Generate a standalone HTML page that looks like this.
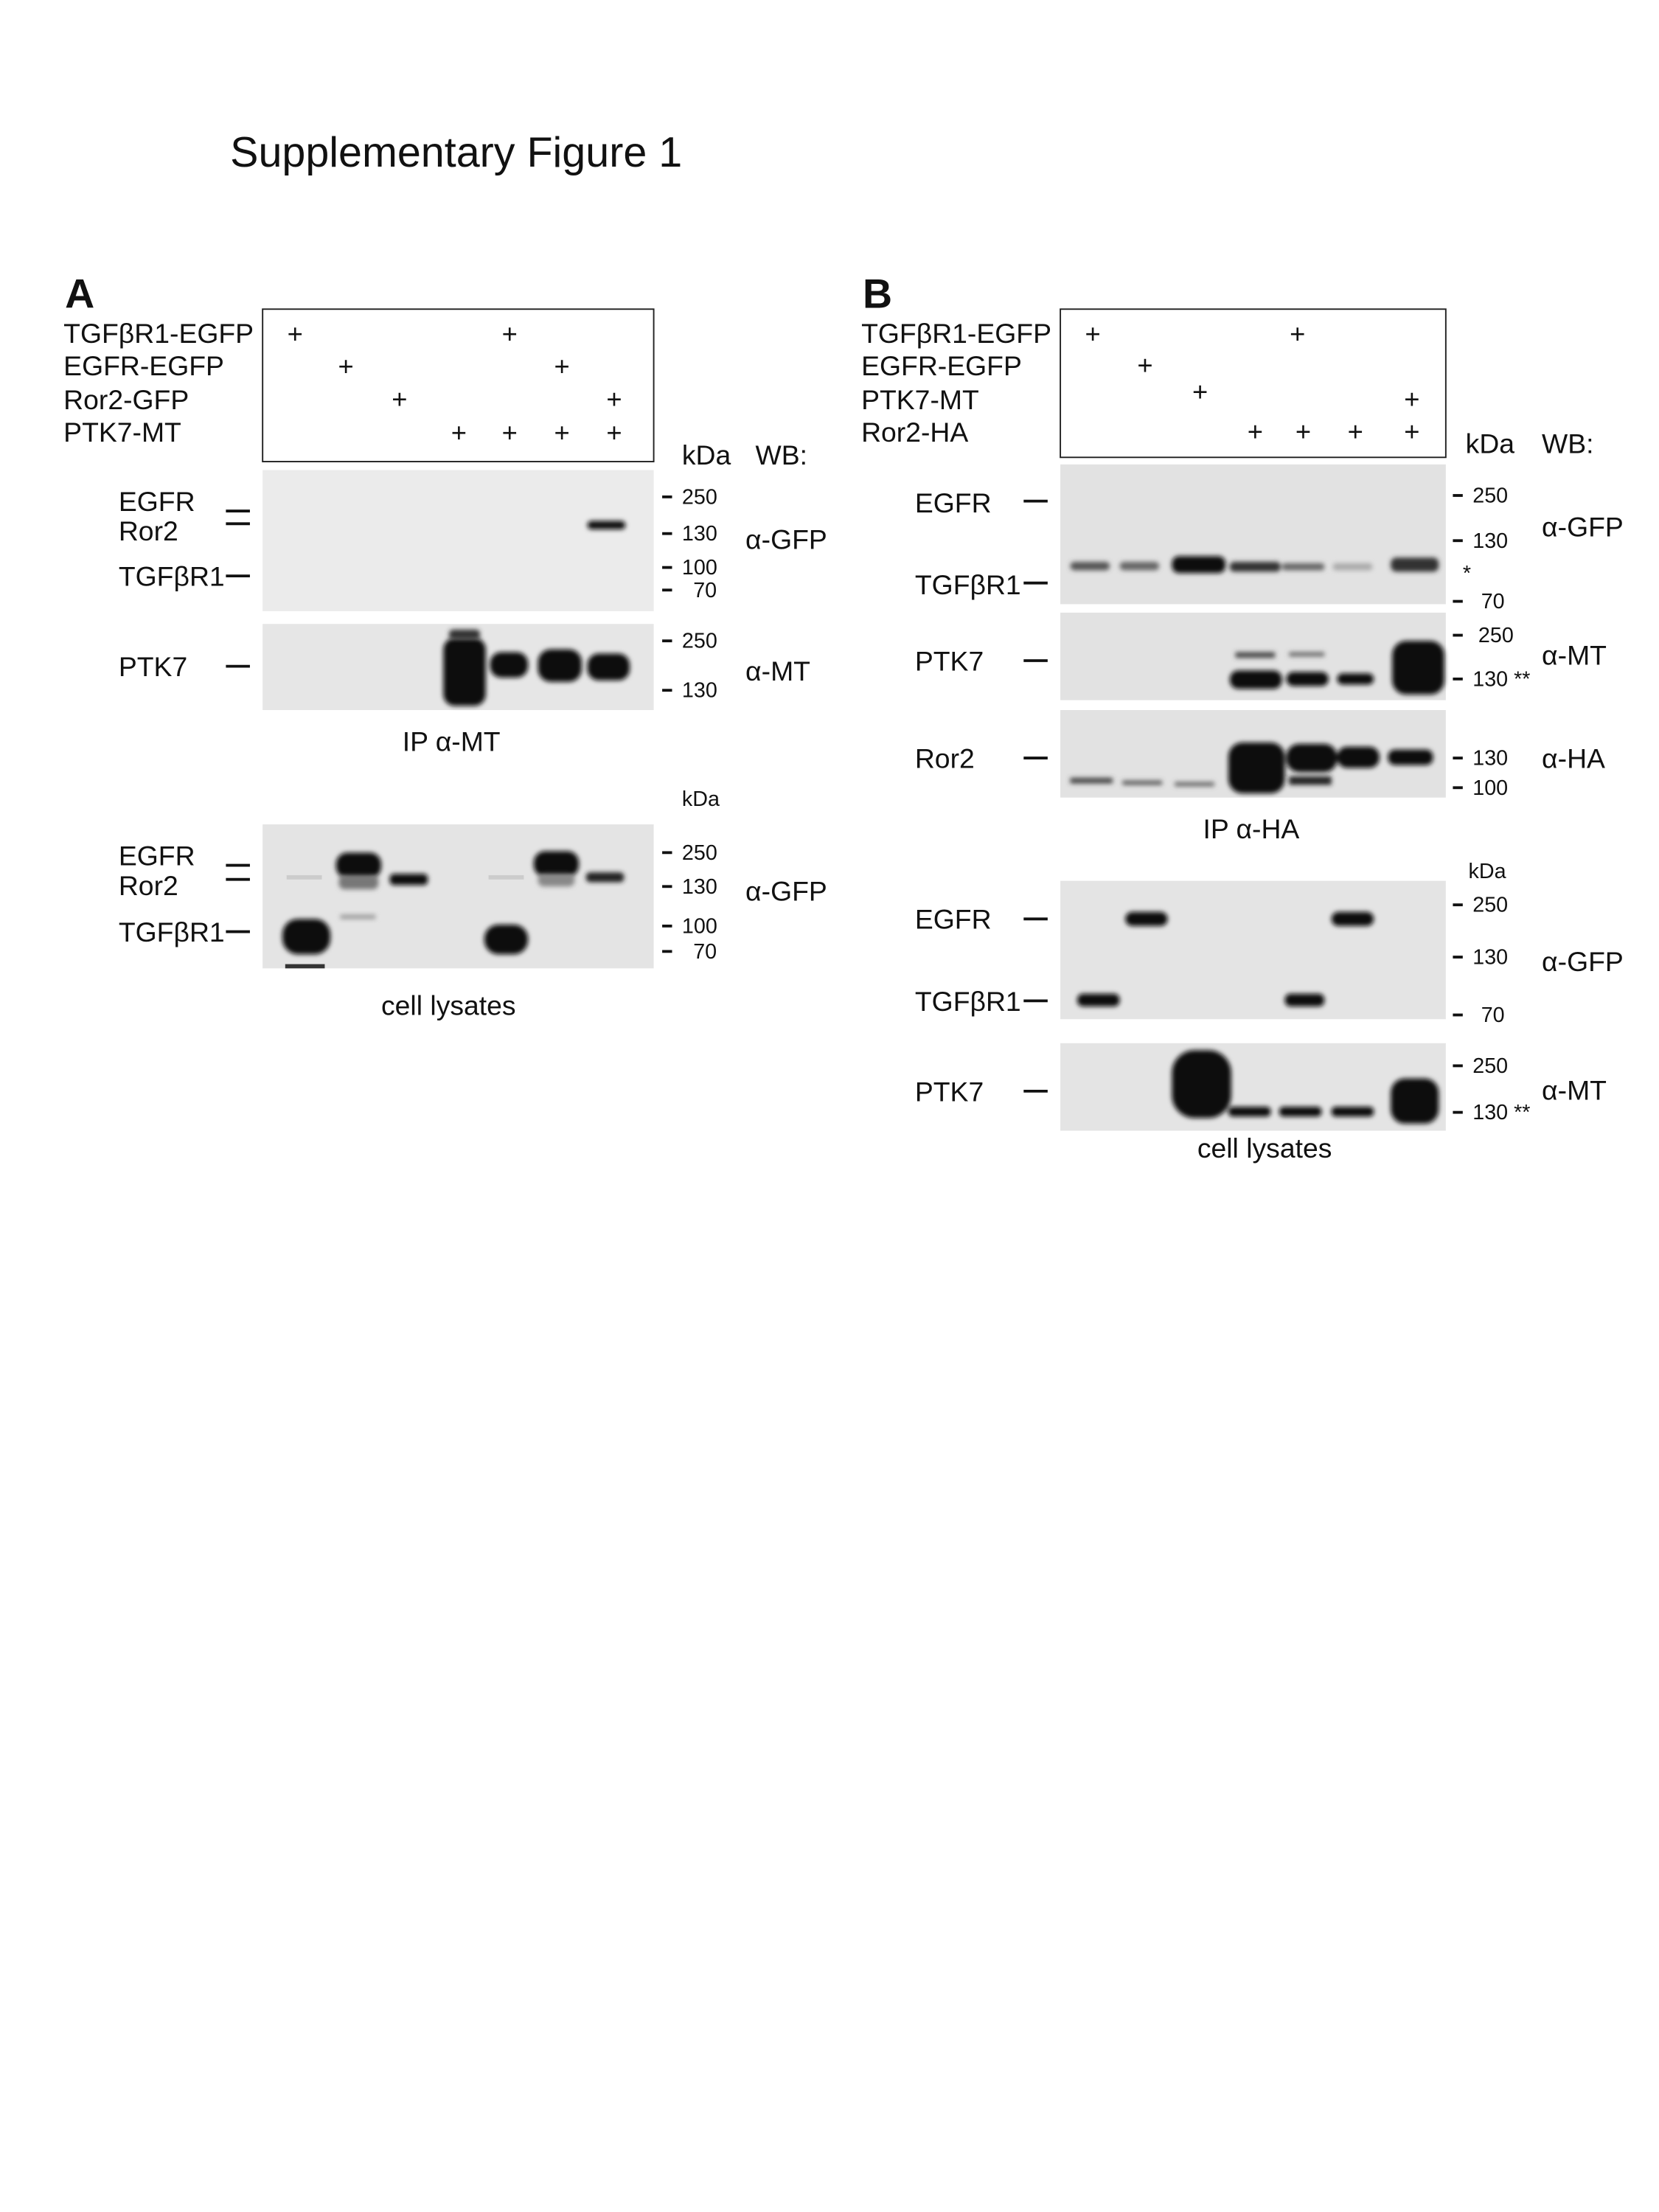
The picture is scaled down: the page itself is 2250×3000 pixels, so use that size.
<!DOCTYPE html>
<html><head><meta charset="utf-8"><style>
html,body{margin:0;padding:0;background:#fff;}
svg{display:block;}
text{font-family:"Liberation Sans",Arial,sans-serif;fill:#111;}
</style></head><body>
<svg width="2250" height="3000" viewBox="0 0 1175 1567" preserveAspectRatio="none">
<defs>
<filter id="b" x="-30%" y="-100%" width="160%" height="300%"><feGaussianBlur stdDeviation="1.6"/></filter>
</defs>
<text x="163" y="118" font-size="30">Supplementary Figure 1</text>

<!-- PANEL A -->
<g>
<text x="46" y="218" font-size="29" font-weight="bold">A</text>
<rect x="186" y="219" width="277" height="108" fill="none" stroke="#222" stroke-width="1"/>
<g font-size="19.5">
<text x="45" y="243">TGFβR1-EGFP</text><text x="45" y="266">EGFR-EGFP</text>
<text x="45" y="290">Ror2-GFP</text><text x="45" y="313">PTK7-MT</text>
</g>
<g font-size="19" text-anchor="middle">
<text x="209" y="243">+</text><text x="361" y="243">+</text>
<text x="245" y="266">+</text><text x="398" y="266">+</text>
<text x="283" y="289">+</text><text x="435" y="289">+</text>
<text x="325" y="313">+</text><text x="361" y="313">+</text><text x="398" y="313">+</text><text x="435" y="313">+</text>
</g>
<text x="483" y="329" font-size="19.5">kDa</text>
<text x="535" y="329" font-size="19.5">WB:</text>

<rect x="186" y="333" width="277" height="100" fill="#ebebeb"/>
<rect x="416" y="369" width="27" height="6" rx="3" fill="#111" filter="url(#b)"/>
<g font-size="19.5"><text x="84" y="362">EGFR</text><text x="84" y="383">Ror2</text><text x="84" y="415">TGFβR1</text></g>
<g stroke="#111" stroke-width="2"><line x1="160" y1="362" x2="177" y2="362"/><line x1="160" y1="371" x2="177" y2="371"/><line x1="160" y1="408" x2="177" y2="408"/></g>
<g font-size="15"><text x="483" y="357">250</text><text x="483" y="383">130</text><text x="483" y="407">100</text><text x="491" y="423">70</text></g>
<g stroke="#111" stroke-width="2"><line x1="469" y1="352" x2="476" y2="352"/><line x1="469" y1="378" x2="476" y2="378"/><line x1="469" y1="402" x2="476" y2="402"/><line x1="469" y1="418" x2="476" y2="418"/></g>
<text x="528" y="389" font-size="19.5">α-GFP</text>

<rect x="186" y="442" width="277" height="61" fill="#e6e6e6"/>
<rect x="314" y="452" width="30" height="48" rx="8" fill="#0a0a0a" filter="url(#b)"/>
<rect x="318" y="446" width="22" height="7" rx="3" fill="#333" filter="url(#b)"/>
<rect x="347" y="462" width="27" height="18" rx="8" fill="#111" filter="url(#b)"/>
<rect x="381" y="460" width="31" height="23" rx="9" fill="#0a0a0a" filter="url(#b)"/>
<rect x="416" y="463" width="30" height="19" rx="8" fill="#111" filter="url(#b)"/>
<text x="84" y="479" font-size="19.5">PTK7</text>
<line x1="160" y1="472" x2="177" y2="472" stroke="#111" stroke-width="2"/>
<g font-size="15"><text x="483" y="459">250</text><text x="483" y="494">130</text></g>
<g stroke="#111" stroke-width="2"><line x1="469" y1="454" x2="476" y2="454"/><line x1="469" y1="489" x2="476" y2="489"/></g>
<text x="528" y="482" font-size="19.5">α-MT</text>
<text x="285" y="532" font-size="19.5">IP α-MT</text>

<text x="483" y="571" font-size="15">kDa</text>
<rect x="186" y="584" width="277" height="102" fill="#e4e4e4"/>
<rect x="200" y="651" width="34" height="25" rx="11" fill="#0a0a0a" filter="url(#b)"/>
<rect x="202" y="683" width="28" height="3" fill="#333"/>
<rect x="238" y="604" width="32" height="18" rx="8" fill="#0a0a0a" filter="url(#b)"/>
<rect x="240" y="620" width="28" height="10" rx="4" fill="#777" filter="url(#b)"/>
<rect x="241" y="648" width="25" height="3" fill="#999" filter="url(#b)"/>
<rect x="276" y="619" width="27" height="8" rx="3" fill="#111" filter="url(#b)"/>
<rect x="343" y="655" width="31" height="21" rx="10" fill="#0a0a0a" filter="url(#b)"/>
<rect x="378" y="603" width="32" height="18" rx="8" fill="#0a0a0a" filter="url(#b)"/>
<rect x="381" y="619" width="26" height="9" rx="4" fill="#888" filter="url(#b)"/>
<rect x="415" y="618" width="27" height="7" rx="3" fill="#222" filter="url(#b)"/>
<rect x="203" y="620" width="25" height="3" fill="#ccc"/><rect x="346" y="620" width="25" height="3" fill="#ccc"/>
<g font-size="19.5"><text x="84" y="613">EGFR</text><text x="84" y="634">Ror2</text><text x="84" y="667">TGFβR1</text></g>
<g stroke="#111" stroke-width="2"><line x1="160" y1="613" x2="177" y2="613"/><line x1="160" y1="623" x2="177" y2="623"/><line x1="160" y1="660" x2="177" y2="660"/></g>
<g font-size="15"><text x="483" y="609">250</text><text x="483" y="633">130</text><text x="483" y="661">100</text><text x="491" y="679">70</text></g>
<g stroke="#111" stroke-width="2"><line x1="469" y1="604" x2="476" y2="604"/><line x1="469" y1="628" x2="476" y2="628"/><line x1="469" y1="656" x2="476" y2="656"/><line x1="469" y1="674" x2="476" y2="674"/></g>
<text x="528" y="638" font-size="19.5">α-GFP</text>
<text x="270" y="719" font-size="19.5">cell lysates</text>
</g>

<!-- PANEL B -->
<g>
<text x="611" y="218" font-size="29" font-weight="bold">B</text>
<rect x="751" y="219" width="273" height="105" fill="none" stroke="#222" stroke-width="1"/>
<g font-size="19.5"><text x="610" y="243">TGFβR1-EGFP</text><text x="610" y="266">EGFR-EGFP</text><text x="610" y="290">PTK7-MT</text><text x="610" y="313">Ror2-HA</text></g>
<g font-size="19" text-anchor="middle">
<text x="774" y="243">+</text><text x="919" y="243">+</text><text x="811" y="265">+</text>
<text x="850" y="284">+</text><text x="1000" y="289">+</text>
<text x="889" y="312">+</text><text x="923" y="312">+</text><text x="960" y="312">+</text><text x="1000" y="312">+</text>
</g>
<text x="1038" y="321" font-size="19.5">kDa</text><text x="1092" y="321" font-size="19.5">WB:</text>

<rect x="751" y="329" width="273" height="99" fill="#e2e2e2"/>
<g filter="url(#b)">
<rect x="758" y="398" width="28" height="6" rx="3" fill="#555"/>
<rect x="793" y="398" width="28" height="6" rx="3" fill="#666"/>
<rect x="830" y="394" width="38" height="12" rx="5" fill="#111"/>
<rect x="871" y="398" width="36" height="7" rx="3" fill="#333"/>
<rect x="908" y="399" width="30" height="5" rx="2" fill="#666"/>
<rect x="944" y="399" width="28" height="5" rx="2" fill="#aaa"/>
<rect x="985" y="395" width="34" height="10" rx="4" fill="#333"/>
</g>
<g font-size="19.5"><text x="648" y="363">EGFR</text><text x="648" y="421">TGFβR1</text></g>
<g stroke="#111" stroke-width="2"><line x1="725" y1="355" x2="742" y2="355"/><line x1="725" y1="413" x2="742" y2="413"/></g>
<g font-size="15"><text x="1043" y="356">250</text><text x="1043" y="388">130</text><text x="1049" y="431">70</text><text x="1036" y="411">*</text></g>
<g stroke="#111" stroke-width="2"><line x1="1029" y1="351" x2="1036" y2="351"/><line x1="1029" y1="383" x2="1036" y2="383"/><line x1="1029" y1="426" x2="1036" y2="426"/></g>
<text x="1092" y="380" font-size="19.5">α-GFP</text>

<rect x="751" y="434" width="273" height="62" fill="#e2e2e2"/>
<g filter="url(#b)">
<rect x="871" y="475" width="37" height="13" rx="6" fill="#0a0a0a"/>
<rect x="875" y="462" width="28" height="4" fill="#444"/>
<rect x="911" y="476" width="30" height="10" rx="5" fill="#111"/>
<rect x="913" y="462" width="25" height="3" fill="#666"/>
<rect x="947" y="477" width="26" height="8" rx="4" fill="#111"/>
<rect x="986" y="454" width="37" height="38" rx="10" fill="#0a0a0a"/>
</g>
<text x="648" y="475" font-size="19.5">PTK7</text>
<line x1="725" y1="468" x2="742" y2="468" stroke="#111" stroke-width="2"/>
<g font-size="15"><text x="1047" y="455">250</text><text x="1043" y="486">130 **</text></g>
<g stroke="#111" stroke-width="2"><line x1="1029" y1="450" x2="1036" y2="450"/><line x1="1029" y1="481" x2="1036" y2="481"/></g>
<text x="1092" y="471" font-size="19.5">α-MT</text>

<rect x="751" y="503" width="273" height="62" fill="#e2e2e2"/>
<g filter="url(#b)">
<rect x="870" y="526" width="40" height="36" rx="10" fill="#0a0a0a"/>
<rect x="911" y="527" width="36" height="20" rx="9" fill="#0a0a0a"/>
<rect x="913" y="550" width="30" height="6" fill="#222"/>
<rect x="947" y="529" width="30" height="15" rx="7" fill="#0a0a0a"/>
<rect x="983" y="531" width="32" height="11" rx="5" fill="#111"/>
<rect x="758" y="551" width="30" height="4" fill="#444"/>
<rect x="795" y="553" width="28" height="3" fill="#555"/>
<rect x="832" y="554" width="28" height="3" fill="#666"/>
</g>
<text x="648" y="544" font-size="19.5">Ror2</text>
<line x1="725" y1="537" x2="742" y2="537" stroke="#111" stroke-width="2"/>
<g font-size="15"><text x="1043" y="542">130</text><text x="1043" y="563">100</text></g>
<g stroke="#111" stroke-width="2"><line x1="1029" y1="537" x2="1036" y2="537"/><line x1="1029" y1="558" x2="1036" y2="558"/></g>
<text x="1092" y="544" font-size="19.5">α-HA</text>
<text x="852" y="594" font-size="19.5">IP α-HA</text>

<text x="1040" y="622" font-size="15">kDa</text>
<rect x="751" y="624" width="273" height="98" fill="#e4e4e4"/>
<g filter="url(#b)">
<rect x="797" y="646" width="30" height="10" rx="5" fill="#0a0a0a"/>
<rect x="943" y="646" width="30" height="10" rx="5" fill="#0a0a0a"/>
<rect x="763" y="704" width="30" height="9" rx="4" fill="#0a0a0a"/>
<rect x="910" y="704" width="28" height="9" rx="4" fill="#0a0a0a"/>
</g>
<g font-size="19.5"><text x="648" y="658">EGFR</text><text x="648" y="716">TGFβR1</text></g>
<g stroke="#111" stroke-width="2"><line x1="725" y1="651" x2="742" y2="651"/><line x1="725" y1="709" x2="742" y2="709"/></g>
<g font-size="15"><text x="1043" y="646">250</text><text x="1043" y="683">130</text><text x="1049" y="724">70</text></g>
<g stroke="#111" stroke-width="2"><line x1="1029" y1="641" x2="1036" y2="641"/><line x1="1029" y1="678" x2="1036" y2="678"/><line x1="1029" y1="719" x2="1036" y2="719"/></g>
<text x="1092" y="688" font-size="19.5">α-GFP</text>

<rect x="751" y="739" width="273" height="62" fill="#e4e4e4"/>
<g filter="url(#b)">
<rect x="830" y="744" width="42" height="48" rx="16" fill="#0a0a0a"/>
<rect x="870" y="784" width="30" height="7" rx="3" fill="#111"/>
<rect x="906" y="784" width="30" height="7" rx="3" fill="#111"/>
<rect x="943" y="784" width="30" height="7" rx="3" fill="#111"/>
<rect x="985" y="764" width="34" height="32" rx="10" fill="#0a0a0a"/>
</g>
<text x="648" y="780" font-size="19.5">PTK7</text>
<line x1="725" y1="773" x2="742" y2="773" stroke="#111" stroke-width="2"/>
<g font-size="15"><text x="1043" y="760">250</text><text x="1043" y="793">130 **</text></g>
<g stroke="#111" stroke-width="2"><line x1="1029" y1="755" x2="1036" y2="755"/><line x1="1029" y1="788" x2="1036" y2="788"/></g>
<text x="1092" y="779" font-size="19.5">α-MT</text>
<text x="848" y="820" font-size="19.5">cell lysates</text>
</g>
</svg>
</body></html>
